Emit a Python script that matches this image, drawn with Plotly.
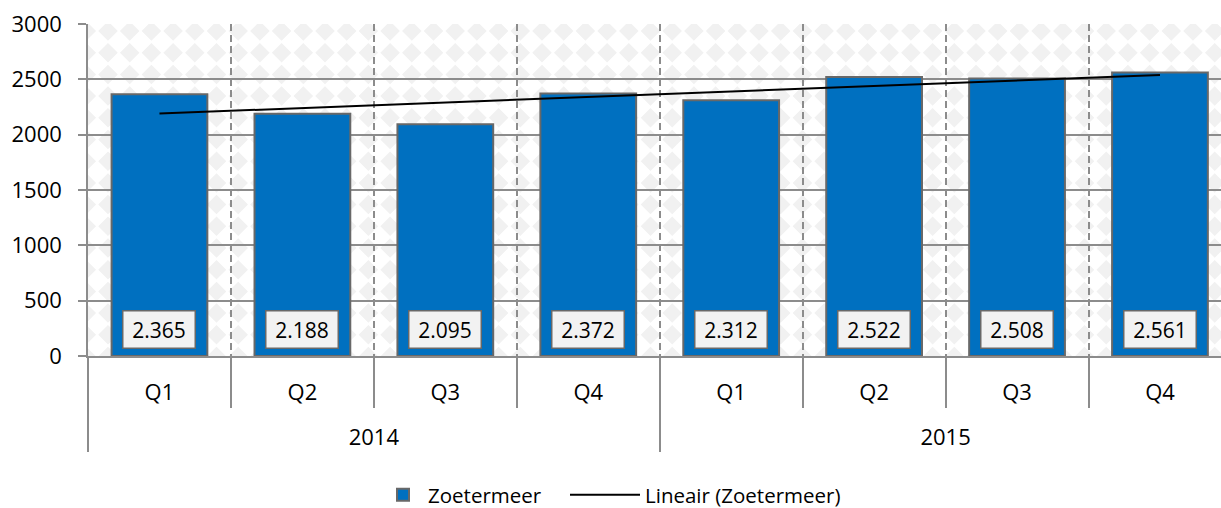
import numpy as np
import plotly.graph_objects as go

# ---------------- data ----------------
years = ["2014", "2014", "2014", "2014", "2015", "2015", "2015", "2015"]
quarters = ["Q1", "Q2", "Q3", "Q4", "Q1", "Q2", "Q3", "Q4"]
values = [2365, 2188, 2095, 2372, 2312, 2522, 2508, 2561]
series_name = "Zoetermeer"
trend_name = "Lineair (Zoetermeer)"
y_ticks = [0, 500, 1000, 1500, 2000, 2500, 3000]

# second-level labels sit one line lower (as in the Excel axis)
year_labels = ["<br>" + y for y in years]

# ---------------- layout geometry ----------------
W, H = 1221, 508
ML, MR, MT, MB = 88, 0, 24, 152
PX0, PX1 = ML, W - MR
PY0, PY1 = MT, H - MB
PW, PH = PX1 - PX0, PY1 - PY0

FONT = "Open Sans"
GRID = "#8c8c8c"
TXT = "#000000"

# linear trendline (Excel "Lineair") from the data
idx = np.arange(len(values))
slope, intercept = np.polyfit(idx, values, 1)
trend = slope * idx + intercept

fig = go.Figure()
fig.add_bar(
    x=[year_labels, quarters], y=values, name=series_name,
    marker=dict(color="#0070C0", line=dict(color="#686868", width=2)),
    hoverinfo="skip", legend="legend",
)
fig.add_scatter(
    x=[year_labels, quarters], y=trend, mode="lines", name=trend_name,
    line=dict(color="black", width=2), hoverinfo="skip", legend="legend2",
)

# data labels (Dutch thousands separator)
for i, v in enumerate(values):
    fig.add_annotation(
        x=i, y=0, xref="x", yref="y", yanchor="bottom", yshift=7,
        text=f"{v:,}".replace(",", "."), showarrow=False,
        bgcolor="#f2f2f2", bordercolor="#686868", borderwidth=1.5,
        borderpad=4, width=63, font=dict(family=FONT, size=21, color=TXT),
    )


# ---------------- diamond background pattern ----------------
def clip_poly(pts, x0, x1, y0, y1):
    def clip(pts, inside, inter):
        out = []
        n = len(pts)
        for k in range(n):
            cur, prev = pts[k], pts[k - 1]
            if inside(cur):
                if not inside(prev):
                    out.append(inter(prev, cur))
                out.append(cur)
            elif inside(prev):
                out.append(inter(prev, cur))
        return out

    def ix(xc):
        return lambda p, q: (xc, p[1] + (q[1] - p[1]) * (xc - p[0]) / (q[0] - p[0]))

    def iy(yc):
        return lambda p, q: (p[0] + (q[0] - p[0]) * (yc - p[1]) / (q[1] - p[1]), yc)

    for ins, inter in [
        (lambda p: p[0] >= x0, ix(x0)),
        (lambda p: p[0] <= x1, ix(x1)),
        (lambda p: p[1] >= y0, iy(y0)),
        (lambda p: p[1] <= y1, iy(y1)),
    ]:
        if not pts:
            break
        pts = clip(pts, ins, inter)
    return pts


d = 21.7
r = 0.45 * d
cx0, cy0 = 108.0, 31.0
path_parts = []
kx0 = int(np.floor((PX0 - cx0) / d)) - 1
kx1 = int(np.ceil((PX1 - cx0) / d)) + 1
ky0 = int(np.floor((PY0 - cy0) / d)) - 1
ky1 = int(np.ceil((PY1 - cy0) / d)) + 1
for j in range(ky0, ky1 + 1):
    cy = cy0 + j * d
    for k in range(kx0, kx1 + 1):
        cx = cx0 + k * d
        poly = [(cx, cy - r), (cx + r, cy), (cx, cy + r), (cx - r, cy)]
        poly = clip_poly(poly, PX0, PX1, PY0, PY1)
        if len(poly) < 3:
            continue
        seg = []
        for m, (px, py) in enumerate(poly):
            xp = (px - PX0) / PW
            yp = (PY1 - py) / PH
            seg.append(("M" if m == 0 else "L") + f"{xp:.5f},{yp:.5f}")
        path_parts.append("".join(seg) + "Z")

fig.add_shape(
    type="path", path="".join(path_parts), xref="paper", yref="paper",
    fillcolor="#f1f1f1", line=dict(width=0), layer="below",
)

legend_common = dict(
    orientation="h", xanchor="left", y=(PY1 - 495) / PH, yanchor="middle",
    font=dict(family=FONT, size=20.5, color=TXT), bgcolor="rgba(0,0,0,0)",
)

fig.update_layout(
    width=W, height=H,
    margin=dict(l=ML, r=MR, t=MT, b=MB, pad=0, autoexpand=False),
    paper_bgcolor="white", plot_bgcolor="rgba(0,0,0,0)",
    font=dict(family=FONT, size=22, color=TXT),
    bargap=0.33,
    showlegend=True,
    legend=dict(x=(378 - ML) / PW, itemwidth=40, **legend_common),
    legend2=dict(x=(565 - ML) / PW, itemwidth=70, **legend_common),
)
fig.update_yaxes(
    range=[0, 3000], tickvals=y_ticks, showgrid=True, gridcolor=GRID, gridwidth=1.5,
    showline=True, linecolor=GRID, linewidth=1.5,
    ticks="outside", ticklen=8, tickcolor=GRID, tickwidth=1.5,
    ticklabelstandoff=12, zeroline=False, automargin=False,
    tickfont=dict(family=FONT, size=22, color=TXT),
)
fig.update_xaxes(
    type="multicategory", range=[-0.5, 7.427],
    tickson="boundaries", ticks="outside", ticklen=50, tickcolor=GRID, tickwidth=1.5,
    showgrid=True, gridcolor=GRID, gridwidth=1.5, griddash="7px,4px",
    showline=True, linecolor=GRID, linewidth=1.5,
    showdividers=True, dividercolor=GRID, dividerwidth=1.5,
    ticklabelstandoff=16, automargin=False,
    tickfont=dict(family=FONT, size=22, color=TXT),
)

fig.write_html(
    "out.html",
    config={"displayModeBar": False},
    post_script="document.body.style.margin='0px';",
)
